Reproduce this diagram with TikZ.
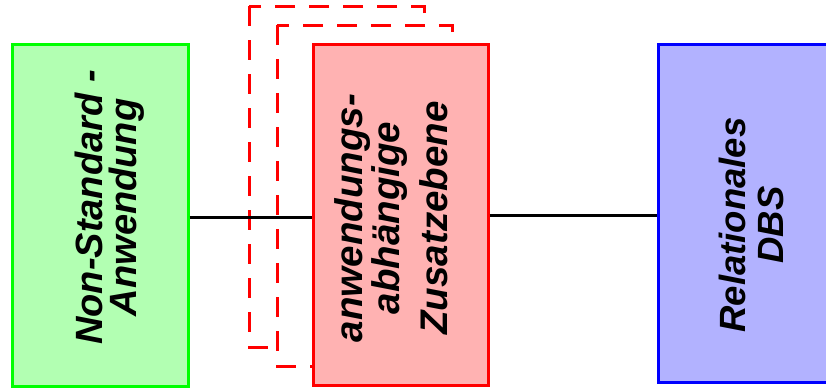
\documentclass[tikz,border=0pt]{standalone}
\usepackage{fontspec}
\setmainfont{Liberation Sans}
\usepackage{tikz}
\usetikzlibrary{positioning}

\tikzset{
  layer/.style={draw, line width=3pt, inner sep=0pt},
  caption/.style={rotate=90, inner sep=0pt, align=center},
  ghost/.style={draw=red, fill=white, line width=3pt, dash pattern=on 20pt off 14pt},
  link/.style={line width=3pt, black}
}

\begin{document}
\begin{tikzpicture}[x=1pt, y=-1pt]
    \path[use as bounding box, clip] (0,0) rectangle (826,389);

    % Kopien der Zusatzebene
    \foreach \x/\y in {249/6, 277/25} {
        \draw[ghost] (\x,\y) rectangle ++(175,341);
    }

    % Anwendung
    \node[layer, draw=green, fill=green!30, minimum width=176pt, minimum height=342pt] (app) at (100,215) {};
    \node[caption, font=\fontsize{38}{34}\selectfont\bfseries\itshape] (appText) at (110,207.5)
        {Non-Standard -\\Anwendung};

    % Zusatzebene
    \node[layer, draw=red, fill=red!30, minimum width=175pt, minimum height=341pt] (ext) at (400.5,214.5) {};
    \node[caption, font=\fontsize{38.5}{39}\selectfont\bfseries\itshape] (extText) at (391.5,218)
        {anwendungs-\\[-2pt]abh\"angige\\[9pt]Zusatzebene};

    % DBS
    \node[layer, draw=blue, fill=blue!30, minimum width=176pt, minimum height=338pt] (dbs) at (746,213) {};
    \node[caption, font=\fontsize{36.5}{38}\selectfont\bfseries\itshape] (dbsText) at (751,225)
        {Relationales\\DBS};

    \draw[link] (app.east |- 0,217) -- (ext.west |- 0,217);
    \draw[link] (ext.east |- 0,215) -- (dbs.west |- 0,215);
\end{tikzpicture}
\end{document}
